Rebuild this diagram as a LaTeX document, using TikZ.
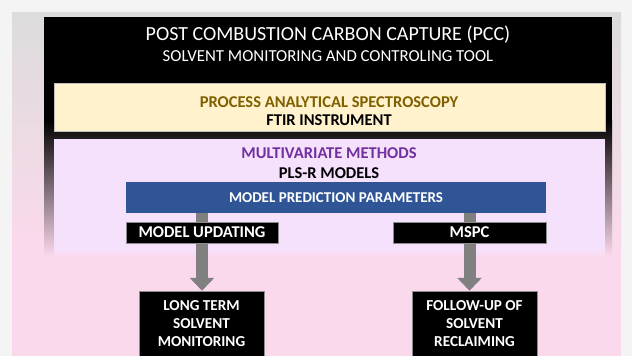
\documentclass[tikz,border=0pt]{standalone}
\usepackage{fontspec}
\setmainfont{Carlito}
\usetikzlibrary{arrows.meta,calc}
\definecolor{pagegrey}{RGB}{244,244,244}
\definecolor{frametop}{RGB}{220,220,220}
\definecolor{pinkbg}{RGB}{251,217,236}
\definecolor{cream}{RGB}{255,242,204}
\definecolor{lavender}{RGB}{245,225,252}
\definecolor{gold}{RGB}{127,96,0}
\definecolor{mvpurple}{RGB}{112,48,160}
\definecolor{prmblue}{RGB}{47,85,151}
\definecolor{shaftgrey}{RGB}{128,128,128}
\tikzset{
  panel/.style={inner sep=0pt, align=center},
  pasbox/.style={panel, fill=cream, draw=black!25, line width=0.5pt,
    minimum width=551pt, minimum height=48pt},
  mvbox/.style={panel, fill=lavender, minimum width=551pt, minimum height=110pt},
  prmbox/.style={panel, fill=prmblue, text=white, minimum width=420pt,
    minimum height=31pt, font=\bfseries\fontsize{15}{18}\selectfont},
  darkbox/.style={panel, fill=black, draw=black!45, line width=0.5pt, text=white,
    font=\bfseries\fontsize{16.5}{18}\selectfont},
  flow/.style={draw=shaftgrey, line width=12pt,
    -{Triangle[width=24pt,length=13pt]}}
}

\begin{document}
\begin{tikzpicture}[x=1pt,y=-1pt]
\useasboundingbox (0,0) rectangle (632,356);
% background and frame
\fill[pagegrey] (0,0) rectangle (632,356);
\shade[top color=frametop,bottom color=pinkbg] (12,12) rectangle (621,250);
\fill[pinkbg] (12,250) rectangle (621,356);
\fill[black] (44,17) rectangle (612,120);
\shade[top color=black,bottom color=pinkbg] (44,120) rectangle (612,256);

\coordinate (T) at (328,34.5);
\coordinate (S) at (328,56.5);
\coordinate (P) at (329.5,107.5);
\coordinate (M) at (329.5,194);
\coordinate (R) at (336,197.5);
\coordinate (U) at (202,232.5);
\coordinate (C) at (469.5,232.5);

\node[panel, text=white, font=\fontsize{20}{24}\selectfont] (title) at (T)
  {POST COMBUSTION CARBON CAPTURE (PCC)};
\node[panel, text=white, font=\fontsize{16.8}{20}\selectfont] (subtitle) at (S)
  {SOLVENT MONITORING AND CONTROLING TOOL};

\node[pasbox] (pas) at (P) {};
\node[panel, font=\bfseries\fontsize{16.5}{18}\selectfont] (pastext) at (329,111)
  {{\color{gold}PROCESS ANALYTICAL SPECTROSCOPY}\\FTIR INSTRUMENT};

\node[mvbox] (mv) at (M) {};
\shade[top color=lavender,bottom color=pinkbg] (mv.south west) rectangle ($(mv.south east)+(0,7)$);
\node[panel, font=\bfseries\fontsize{16.5}{20}\selectfont] (mvtext) at (329,163.5)
  {{\color{mvpurple}MULTIVARIATE METHODS}\\PLS-R MODELS};

\node[prmbox] (prm) at (R) {MODEL PREDICTION PARAMETERS};

\node[darkbox, minimum width=125pt, minimum height=66pt,
  font=\bfseries\fontsize{15.2}{18}\selectfont] (lt) at (201.5,324)
  {LONG TERM\\SOLVENT\\MONITORING};
\node[darkbox, minimum width=125pt, minimum height=66pt,
  font=\bfseries\fontsize{15.2}{18}\selectfont] (fu) at (474.5,324)
  {FOLLOW-UP OF\\SOLVENT\\RECLAIMING};

% shafts run behind the two labels
\draw[flow] (prm.south -| U) -- (U |- lt.north);
\draw[flow] (prm.south -| C) -- (C |- fu.north);

\node[darkbox, minimum width=152pt, minimum height=21pt] (upd) at (U) {MODEL UPDATING};
\node[darkbox, minimum width=153pt, minimum height=21pt] (mspc) at (C) {MSPC};
\end{tikzpicture}
\end{document}
